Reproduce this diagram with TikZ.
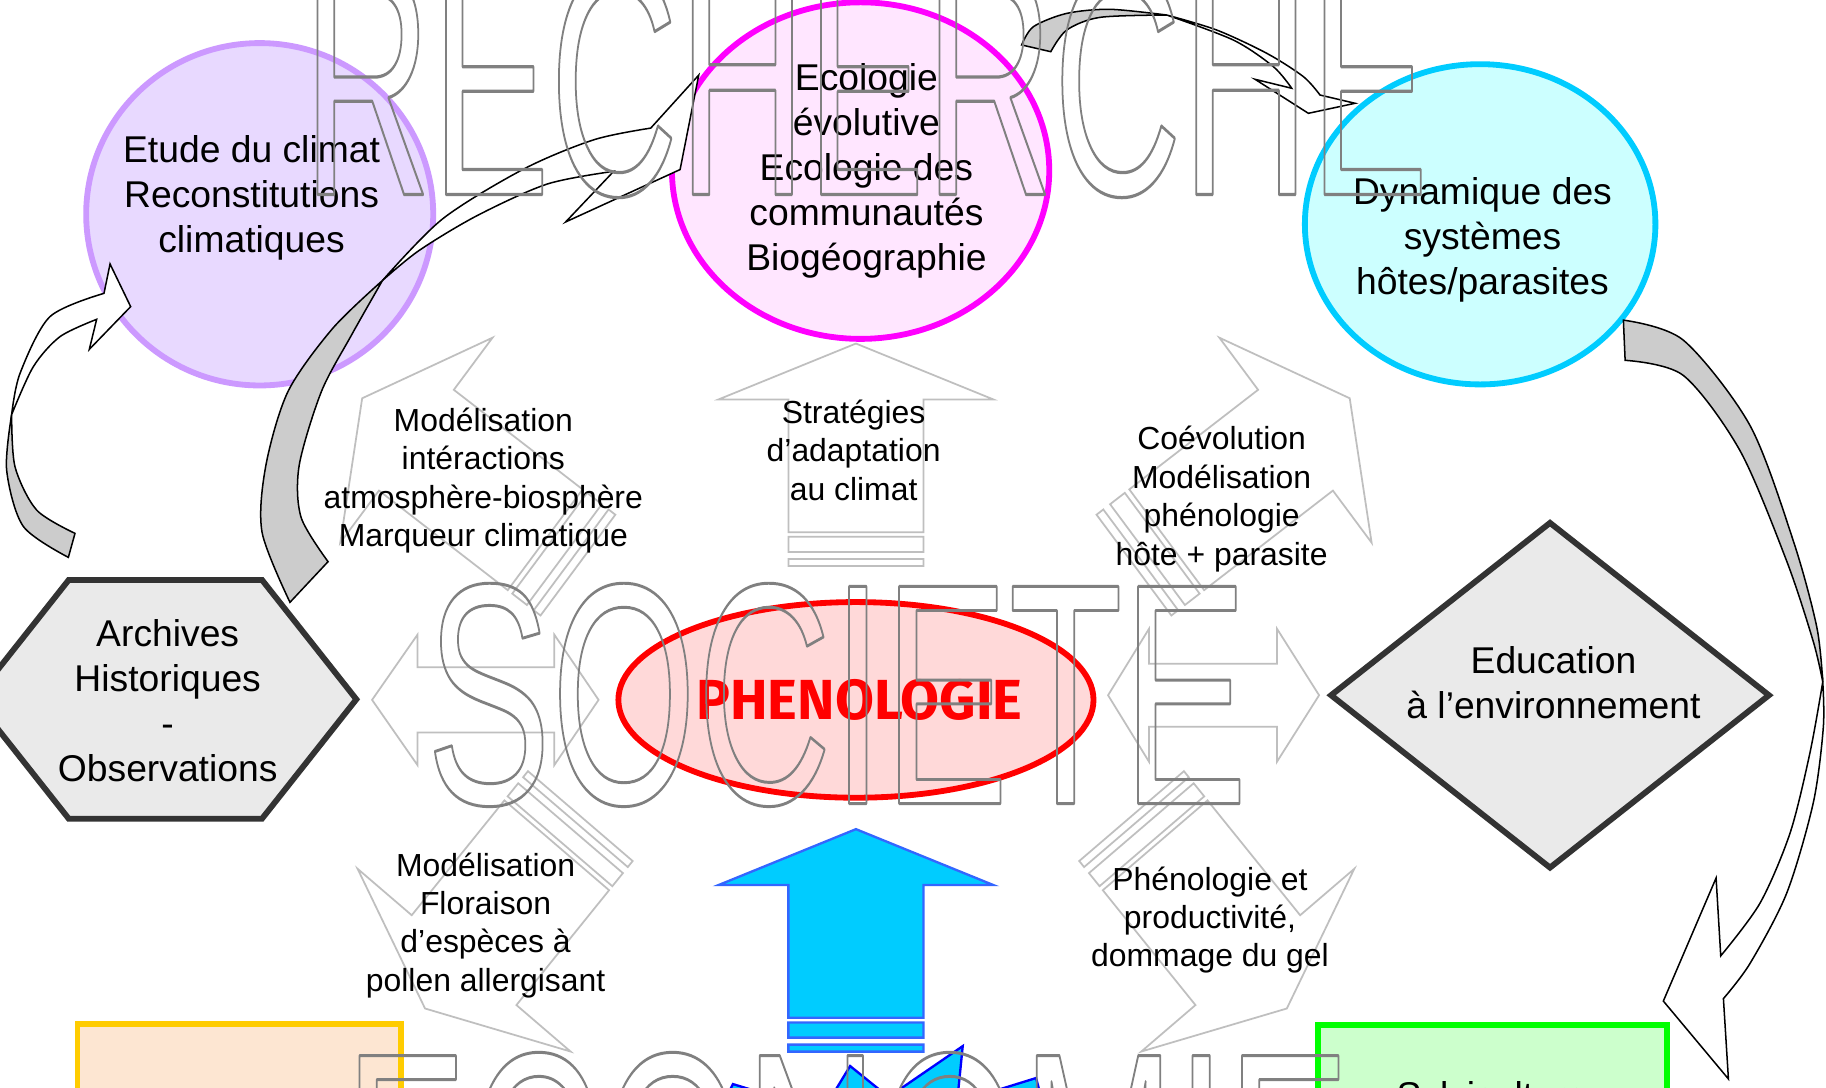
\documentclass[tikz,border=0pt]{standalone}
\usepackage{fontspec}
\setmainfont{Liberation Sans}
\newfontfamily\phenofont{Fira Sans}
\usetikzlibrary{shapes.geometric}
\definecolor{purplefill}{RGB}{232,217,255}
\definecolor{purpleline}{RGB}{204,153,255}
\definecolor{magfill}{RGB}{255,230,255}
\definecolor{magline}{RGB}{255,0,255}
\definecolor{cyanfill}{RGB}{204,255,255}
\definecolor{cyanline}{RGB}{0,204,255}
\definecolor{greyfill}{RGB}{234,234,234}
\definecolor{darkline}{RGB}{51,51,51}
\definecolor{phenofill}{RGB}{255,217,217}
\definecolor{orangefill}{RGB}{253,230,210}
\definecolor{orangeline}{RGB}{255,204,0}
\definecolor{greenfill}{RGB}{204,255,204}
\definecolor{greenline}{RGB}{0,255,0}
\definecolor{wiregray}{RGB}{191,191,191}
\definecolor{wmgray}{RGB}{128,128,128}
\definecolor{bandgray}{RGB}{204,204,204}
\definecolor{arrowcyan}{RGB}{0,204,255}
\definecolor{arrowblue}{RGB}{51,102,255}
\definecolor{starblue}{RGB}{0,0,255}
\newcommand\outlinetext[1]{\special{pdf:literal direct 1 Tr 1.5 w 0.5 0.5 0.5 RG 1 j}#1\special{pdf:literal direct 0 Tr}}
\tikzset{
  stripearrow/.pic={
    \path[pic actions] (0,0) -- (48,118) -- (48,58) -- (162,58) -- (162,-58) -- (48,-58) -- (48,-118) -- cycle
      (166,58) -- (179,58) -- (179,-58) -- (166,-58) -- cycle
      (185,58) -- (191,58) -- (191,-58) -- (185,-58) -- cycle;
  }
}
\begin{document}
\begin{tikzpicture}[x=1pt,y=-1pt,line join=miter,
  bubble/.style={ellipse, line width=5pt, inner sep=0},
  biglabel/.style={align=center, font=\fontsize{32}{38.7}\selectfont, inner sep=0, text=black},
  smalllabel/.style={align=center, font=\fontsize{27.4}{33}\selectfont, inner sep=0, text=black},
  wire/.style={draw=wiregray, line width=1.5pt},
  band/.style={draw=black, line width=1.3pt, fill=bandgray},
  bandwhite/.style={draw=black, line width=1.3pt, fill=white},
  watermark/.style={anchor=base west, inner sep=0, text=wmgray},
  blockshape/.style={line width=5pt, draw=darkline, fill=greyfill, line join=miter},
]
\useasboundingbox (0,0) rectangle (1568,934);
\clip (0,0) rectangle (1568,934);
\fill[white] (0,0) rectangle (1568,934);

% ---------- light grey wireframe arrows ----------
\begin{scope}[shift={(735,295)}, x={(0pt,-1pt)}, y={(1pt,0pt)}]
  \pic[wire] {stripearrow};
\end{scope}
\begin{scope}[shift={(311,342)}, x={(0.97pt,-0.75pt)}, y={(0.554pt,0.746pt)}]
  \pic[wire] {stripearrow};
\end{scope}
\begin{scope}[shift={(1159,342)}, x={(-0.97pt,-0.75pt)}, y={(-0.554pt,0.746pt)}]
  \pic[wire] {stripearrow};
\end{scope}
\begin{scope}[shift={(365,866)}, x={(0.698pt,0.865pt)}, y={(-0.775pt,0.665pt)}]
  \pic[wire] {stripearrow};
\end{scope}
\begin{scope}[shift={(1105,866)}, x={(-0.698pt,0.865pt)}, y={(0.775pt,0.665pt)}]
  \pic[wire] {stripearrow};
\end{scope}
\draw[wire] (319.5,601) -- (358.5,545) -- (358.5,573) -- (476,573) -- (476,545) -- (514,601)
  -- (476,657) -- (476,629) -- (358.5,629) -- (358.5,657) -- cycle;
\draw[wire] (951.5,597) -- (986.6,540) -- (986.6,570) -- (1096.6,570) -- (1096.6,540) -- (1132.7,597)
  -- (1096.6,654) -- (1096.6,624) -- (986.6,624) -- (986.6,654) -- cycle;

% ---------- main shapes ----------
\node[bubble, draw=purpleline, fill=purplefill, minimum width=298, minimum height=294] (climat) at (223,184) {};
\node[bubble, draw=magline, fill=magfill, minimum width=324, minimum height=289] (ecologie) at (739,146.5) {};
\node[bubble, draw=cyanline, fill=cyanfill, minimum width=301, minimum height=275] (hotes) at (1271,192.6) {};
\node[bubble, draw=red, fill=phenofill, minimum width=408, minimum height=168] (phenoell) at (735,601) {};
\draw[blockshape] (-22,600.5) -- (59,498) -- (225,498) -- (306,600.5) -- (225,703) -- (59,703) -- cycle;
\draw[blockshape] (1331,449) -- (1519,597) -- (1331,745) -- (1143,597) -- cycle;
\draw[line width=5pt, draw=orangeline, fill=orangefill] (66.5,879.5) rectangle (344,980);
\draw[line width=5pt, draw=greenline, fill=greenfill] (1131.5,880.5) rectangle (1431.5,980);

% ---------- curved arrows ----------
% archives -> climat
\draw[band] plot[smooth] coordinates {(58.7,478.6) (20,452) (5.7,403.6) (10,356)}
  -- plot[smooth] coordinates {(10,356) (12.9,400.8) (31.5,438) (64.4,458)} -- cycle;
\draw[bandwhite] plot[smooth] coordinates {(10,356) (17.2,320.6) (42.9,271.9) (89.3,251.9)}
  -- (94.5,226.7) -- (112.2,263.3) -- (76.7,300) -- (83,274.2)
  -- plot[smooth] coordinates {(83,274.2) (51.5,289.1) (28.6,314.9) (10,356)} -- cycle;
% archives -> ecologie
\draw[band] plot[smooth] coordinates {(249,517.2) (225,456.9) (228.3,399.7) (247.3,336.2) (285.5,282.2) (328.4,240.9)}
  -- plot[smooth] coordinates {(328.4,240.9) (301.4,288.5) (276,336.2) (256.9,399.7) (258.5,444.1) (281.7,482.3)} -- cycle;
\draw[bandwhite] plot[smooth] coordinates {(328.4,240.9) (380,188) (450,145) (510,120) (558.8,110)}
  -- (600,64.5) -- (584,145.6) -- (485.7,190.6) -- (527,147.1)
  -- plot[smooth] coordinates {(527,147.1) (470,158) (410,185) (360,215) (328.4,240.9)} -- cycle;
% ecologie -> hotes
\draw[band] plot[smooth] coordinates {(877.3,38.6) (887.4,22.9) (916,11.5) (953.2,8) (1001.9,12.9)}
  -- plot[smooth] coordinates {(1001.9,12.9) (944.6,14.9) (916,25.8) (902.3,44.4)} -- cycle;
\draw[bandwhite] plot[smooth] coordinates {(1001.9,12.9) (1044.8,25.8) (1087.8,45.8) (1119.2,65.8) (1133.5,81.6)}
  -- (1163.6,88.7) -- (1123.5,97.3) -- (1077.7,68.1) -- (1109.2,75.8)
  -- plot[smooth] coordinates {(1109.2,75.8) (1093.4,57.2) (1059.1,34.4) (1001.9,12.9)} -- cycle;
% hotes -> green box
\draw[band] plot[smooth] coordinates {(1394,274.9) (1445.5,292.1) (1502.8,365.5) (1540,464.7) (1560,538.1) (1565.2,585.6)}
  -- plot[smooth] coordinates {(1565.2,585.6) (1557.1,551) (1534.3,482) (1494.2,387.1) (1445.5,322.4) (1395.5,309.4)} -- cycle;
\draw[bandwhite] plot[smooth] coordinates {(1565.2,585.6) (1565.7,624.4) (1557.1,689.2) (1534.3,766.8) (1502.8,827.2) (1479.9,857.5)}
  -- (1484.2,926.5) -- (1428.3,859.6) -- (1473.6,753.9) -- (1477.6,820.8)
  -- plot[smooth] coordinates {(1477.6,820.8) (1511.4,775.4) (1537.2,715.1) (1554.3,646) (1565.2,585.6)} -- cycle;

% ---------- cyan arrow and star ----------
\begin{scope}[shift={(735,712)}, x={(0pt,-1pt)}, y={(1pt,0pt)}]
  \pic[draw=arrowblue, fill=arrowcyan, line width=2pt] {stripearrow};
\end{scope}
\draw[draw=starblue, fill=arrowcyan, line width=2pt] (612,965) -- (629.4,930.9) -- (669,943) -- (690,952)
  -- (712,945) -- (730,915.4) -- (763,942) -- (826.7,898.3) -- (822,945) -- (836,952)
  -- (850,938) -- (889.7,925.7) -- (900,965) -- cycle;

% ---------- labels ----------
\node[biglabel] (climattxt) at (216,170) {Etude du climat\\Reconstitutions\\climatiques};
\node[biglabel] (ecotxt) at (744,147) {Ecologie\\évolutive\\Ecologie des\\communautés\\Biogéographie};
\node[biglabel] (hotestxt) at (1273,205.7) {Dynamique des\\systèmes\\hôtes/parasites};
\node[biglabel] (archtxt) at (144,602) {Archives\\Historiques\\-\\Observations};
\node[biglabel] (edutxt) at (1334,586) {Education\\à l’environnement};
\node[biglabel, anchor=base] (sylvtxt) at (1281,952) {Sylviculture};
\node[smalllabel] (modtxt) at (415,412.5) {Modélisation\\intéractions\\atmosphère-biosphère\\Marqueur climatique};
\node[smalllabel] (strattxt) at (733,386.5) {Stratégies\\d’adaptation\\au climat};
\node[smalllabel] (coevtxt) at (1049,428.5) {Coévolution\\Modélisation\\phénologie\\hôte + parasite};
\node[smalllabel] (flortxt) at (417,794.5) {Modélisation\\Floraison\\d’espèces à\\pollen allergisant};
\node[smalllabel] (geltxt) at (1039,790) {Phénologie et\\productivité,\\dommage du gel};
\node[inner sep=0, text=red, font=\phenofont\fontsize{48.5}{48}\bfseries\selectfont] (phenotxt) at (738,601) {PHENOLOGIE};

% ---------- outline watermark words ----------
\node[watermark] (wmrech) at (260,167) {\scalebox{1}[1.838]{\fontsize{152.6}{150}\selectfont\outlinetext{RECHERCHE}}};
\node[watermark] (wmsoc) at (366,690) {\scalebox{1}[1.687]{\fontsize{160.6}{160}\selectfont\outlinetext{SOCIETE}}};
\node[watermark] (wmeco) at (295.5,1093) {\scalebox{1}[1.71]{\fontsize{158.6}{158}\selectfont\outlinetext{ECONOMIE}}};
\end{tikzpicture}
\end{document}
